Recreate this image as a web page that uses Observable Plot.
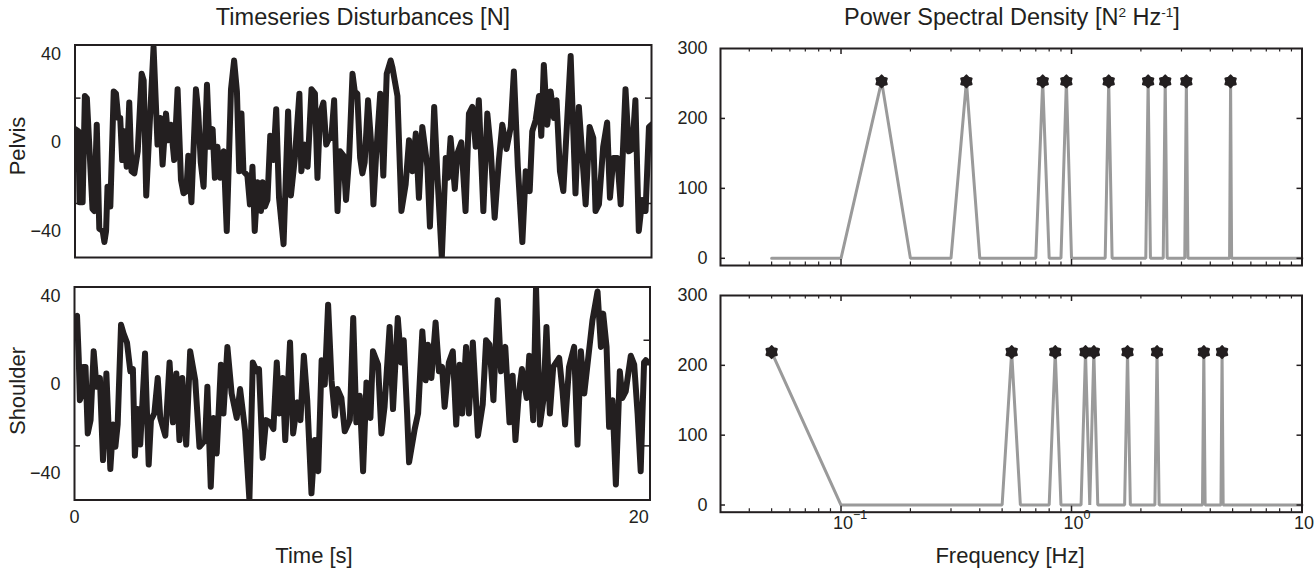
<!DOCTYPE html>
<html>
<head>
<meta charset="utf-8">
<script src="https://cdn.jsdelivr.net/npm/d3@7"></script>
<script src="https://cdn.jsdelivr.net/npm/@observablehq/plot@0.6"></script>
<style>
  html, body { margin: 0; padding: 0; background: #fff; }
  #fig { position: relative; width: 1314px; height: 573px; overflow: hidden;
         font-family: "Liberation Sans", Arial, Helvetica, sans-serif; color: #231f20; }
  #fig svg { position: absolute; left: 0; top: 0; }
  .lbl { position: absolute; white-space: nowrap; font-size: 22px; line-height: 1;
         transform: translate(-50%, -50%); }
  .ttl { font-size: 23.5px; }
  .rot { transform: translate(-50%, -50%) rotate(-90deg); }
  .lbl sup { font-size: 58%; vertical-align: 0.6em; line-height: 0; }
</style>
</head>
<body>
<div id="fig">
  <div class="lbl ttl" style="left:363px; top:18px;">Timeseries Disturbances [N]</div>
  <div class="lbl ttl" style="left:1012px; top:18px;">Power Spectral Density [N<sup>2</sup> Hz<sup>-1</sup>]</div>
  <div class="lbl rot" style="left:18px; top:146px;">Pelvis</div>
  <div class="lbl rot" style="left:18px; top:391px;">Shoulder</div>
  <div class="lbl" style="left:314px; top:556px;">Time [s]</div>
  <div class="lbl" style="left:1010px; top:556px;">Frequency [Hz]</div>
</div>
<script>
// ---------- data ----------
const pelvisTime = [0,0.12,0.16,0.27,0.35,0.42,0.62,0.68,0.77,0.86,0.98,1.04,1.10,1.15,1.25,1.37,1.45,1.53,1.60,1.67,1.74,1.83,1.92,2.00,2.10,2.22,2.36,2.43,2.52,2.63,2.78,2.92,3.02,3.10,3.22,3.30,3.39,3.51,3.63,3.75,3.84,3.94,4.01,4.12,4.28,4.36,4.45,4.55,4.67,4.76,4.87,4.95,5.04,5.14,5.26,5.37,5.52,5.63,5.73,5.81,5.89,5.96,6.10,6.19,6.28,6.36,6.46,6.58,6.64,6.72,6.81,6.91,7.02,7.12,7.22,7.38,7.54,7.64,7.78,7.94,8.01,8.13,8.23,8.37,8.49,8.58,8.67,8.79,8.89,8.99,9.07,9.17,9.29,9.38,9.50,9.59,9.70,9.82,9.90,9.99,10.09,10.17,10.25,10.37,10.47,10.56,10.65,10.80,10.91,11.03,11.17,11.23,11.41,11.55,11.70,11.82,11.94,12.06,12.17,12.29,12.47,12.56,12.71,12.82,12.98,13.12,13.20,13.29,13.44,13.53,13.67,13.82,13.94,14.06,14.18,14.29,14.45,14.59,14.71,14.85,15.00,15.12,15.27,15.42,15.53,15.67,15.83,15.95,16.09,16.18,16.30,16.42,16.50,16.59,16.71,16.83,16.95,17.04,17.16,17.28,17.42,17.54,17.71,17.83,17.95,18.07,18.21,18.34,18.42,18.54,18.69,18.83,18.93,19.05,19.19,19.31,19.48,19.60,19.72,19.83,19.95,20.07,20.19,20.31,20.40];
const pelvisForce = [6,5,-27,-27,21,20,-30,-31,8,-39,-40,-45,-40,-20,-29,23,22,11,11,-8,5,-11,18,-13,-14,-4,31,28,-24,5,43,-1,11,-10,13,1,8,-8,24,-17,-23,-22,-6,-27,24,14,-9,-20,26,-2,6,-16,-2,-16,-4,-40,24,37,23,-13,13,-13,-15,-28,-11,-40,-18,-31,-18,-29,-26,3,-8,15,-25,-46,14,-24,-7,22,-13,-1,-11,24,22,-16,13,18,-1,2,2,19,-31,-4,-6,-26,-7,31,23,22,-7,-14,-9,19,1,-28,-7,22,-15,31,37,34,21,-31,-19,1,-13,4,-25,7,-11,-38,16,-14,-52,-7,-16,2,-21,-5,0,-31,13,16,-2,19,-31,13,-3,-34,-8,8,-3,7,32,-11,-45,-13,-22,5,10,21,3,35,8,23,11,19,-13,-22,11,39,-23,16,-6,-28,7,2,-31,-28,-2,9,-25,-7,-7,-28,24,-4,-3,19,-40,-26,-31,7,8];

const shoulderTime = [0,0.09,0.15,0.19,0.27,0.31,0.39,0.47,0.57,0.68,0.78,0.90,1.01,1.13,1.27,1.37,1.45,1.53,1.65,1.74,1.86,1.98,2.07,2.14,2.24,2.33,2.40,2.50,2.63,2.71,2.83,2.95,3.04,3.22,3.37,3.49,3.61,3.72,3.82,3.96,4.10,4.28,4.43,4.63,4.71,4.83,4.93,5.04,5.19,5.28,5.42,5.57,5.75,5.87,6.05,6.20,6.32,6.46,6.54,6.67,6.79,6.93,7.05,7.17,7.26,7.38,7.47,7.64,7.75,7.90,8.01,8.13,8.25,8.40,8.52,8.64,8.76,8.87,8.99,9.11,9.23,9.32,9.46,9.58,9.76,9.88,9.99,10.11,10.23,10.35,10.49,10.58,10.76,10.88,10.99,11.17,11.29,11.46,11.58,11.67,11.79,11.86,12.06,12.18,12.33,12.45,12.53,12.65,12.80,12.92,13.03,13.12,13.27,13.41,13.53,13.65,13.74,13.88,13.98,14.12,14.30,14.47,14.59,14.71,14.85,15.00,15.12,15.27,15.42,15.53,15.63,15.75,15.86,16.03,16.12,16.26,16.36,16.50,16.62,16.73,16.85,16.97,17.18,17.30,17.39,17.53,17.71,17.83,17.95,18.07,18.36,18.54,18.66,18.74,18.86,18.95,19.07,19.19,19.33,19.42,19.54,19.72,19.84,19.96,20.07,20.19,20.25,20.33];
const shoulderForce = [30,31,12,-7,-4,8,8,-22,-16,15,-1,3,-34,5,-38,-18,-28,-18,27,23,19,6,7,-32,-11,-27,-10,14,-36,-16,-13,3,-15,-23,10,-17,5,-25,3,-27,15,2,-28,-25,-1,-46,-15,-31,9,-13,17,-4,-15,-2,-21,-52,10,6,7,-33,-16,-17,-20,10,-13,3,-25,19,-22,-8,-16,13,-7,-49,-25,-39,11,0,36,2,-14,-2,-6,-21,-16,30,-17,-5,-39,1,-15,15,9,-22,-10,26,-11,30,10,20,-13,-35,-20,-13,24,2,18,3,28,6,8,-10,10,15,-18,9,-13,17,-13,19,-23,-9,20,18,-7,38,6,17,-17,4,-25,-4,7,-6,13,-16,44,-18,-7,26,-13,8,12,-3,-18,8,17,-27,15,-4,29,42,17,32,17,-19,-7,-45,6,-6,-3,13,9,-13,-39,10,11,10];

const pelvisFreq = [0.05,0.1,0.15,0.2,0.3,0.35,0.4,0.7,0.75,0.8,0.9,0.95,1.0,1.4,1.45,1.5,2.1,2.15,2.2,2.5,2.55,2.6,3.1,3.15,3.2,4.85,4.9,4.95,10];
const pelvisPSD  = [0,0,253,0,0,253,0,0,253,0,0,253,0,0,253,0,0,253,0,0,253,0,0,253,0,0,253,0,0];
const shoulderFreq = [0.05,0.1,0.5,0.55,0.6,0.8,0.85,0.9,1.1,1.15,1.2,1.25,1.3,1.7,1.75,1.8,2.3,2.35,2.4,3.7,3.75,3.8,4.45,4.5,4.55,10];
const shoulderPSD  = [219,0,0,219,0,0,219,0,0,219,0,219,0,0,219,0,0,219,0,0,219,0,0,219,0,0];

// tick values and labels
const tsYTicks = [-40, 0, 40];
const tsInnerTicks = [20, -27.6];
const tsXTicks = [0, 20];
const psdYTicks = [0, 100, 200, 300];
const psdInnerY = [0, 100, 200];
const psdXTicks = [0.1, 1, 10];
const psdXExponents = ["\u22121", "0", "1"];
const psdMinorX = [0.04,0.05,0.06,0.07,0.08,0.09,0.2,0.3,0.4,0.5,0.6,0.7,0.8,0.9,2,3,4,5,6,7,8,9];

// ---------- drawing ----------
const ink = "#231f20";
const grey = "#9a9a9a";
const FONT = '"Liberation Sans", Arial, Helvetica, sans-serif';
const W = 1314, H = 573;
const fmt = d => (d < 0 ? "\u2212" + Math.abs(d) : String(d));

// six-pointed star marker (hexagram)
const hexagram = {
  draw(ctx, size) {
    const r = Math.sqrt(size / Math.PI) * 1.2, ri = r * 0.72;
    for (let k = 0; k < 12; ++k) {
      const a = Math.PI / 6 * k - Math.PI / 2, rr = k % 2 ? ri : r;
      const px = rr * Math.cos(a), py = rr * Math.sin(a);
      if (k) ctx.lineTo(px, py); else ctx.moveTo(px, py);
    }
    ctx.closePath();
  }
};

function baseStyle() {
  return { background: "transparent", fontFamily: FONT, fontSize: "18px", color: ink, overflow: "visible" };
}

function tsPlot(time, force, m, showX) {
  const fw = W - m.left - m.right;
  const rows = time.map((t, i) => ({ t, f: force[i] }));
  const marks = [
    Plot.line(rows, { x: "t", y: "f", stroke: ink, strokeWidth: 6, strokeLinejoin: "round", clip: true }),
    Plot.frame({ stroke: ink, strokeWidth: 2 }),
    Plot.axisY({ ticks: tsYTicks, tickSize: 0, tickPadding: 14, tickFormat: fmt, fill: ink, label: null }),
    Plot.tickY(tsInnerTicks, { y: d => d, stroke: ink, strokeWidth: 1.5, insetRight: fw - 6 }),
    Plot.tickY(tsInnerTicks, { y: d => d, stroke: ink, strokeWidth: 1.5, insetLeft: fw - 6 })
  ];
  if (showX) marks.push(Plot.axisX({ ticks: tsXTicks, tickSize: 0, tickPadding: 10, tickFormat: fmt, fill: ink, label: null }));
  return Plot.plot({
    width: W, height: H,
    marginLeft: m.left, marginRight: m.right, marginTop: m.top, marginBottom: m.bottom,
    x: { type: "linear", domain: [0, 20.4], axis: showX ? undefined : null, label: null },
    y: { domain: [-52, 44], label: null },
    style: baseStyle(),
    marks
  });
}

function psdPlot(freq, psd, m, showX) {
  const fw = W - m.left - m.right, fh = H - m.top - m.bottom;
  const rows = freq.map((f, i) => ({ f, p: psd[i] }));
  const marks = [
    Plot.line(rows, { x: "f", y: "p", stroke: grey, strokeWidth: 3, strokeLinejoin: "miter" }),
    Plot.dot(rows.filter(d => d.p > 0), { x: "f", y: "p", symbol: hexagram, r: 5, fill: ink, stroke: ink, strokeWidth: 2, strokeLinejoin: "round" }),
    Plot.frame({ stroke: ink, strokeWidth: 2 }),
    Plot.axisY({ ticks: psdYTicks, tickSize: 0, tickPadding: 13, fill: ink, label: null }),
    Plot.tickY(psdInnerY, { y: d => d, stroke: ink, strokeWidth: 1.5, insetRight: fw - 5 }),
    Plot.tickY(psdInnerY, { y: d => d, stroke: ink, strokeWidth: 1.5, insetLeft: fw - 5 }),
    Plot.tickX(psdXTicks, { x: d => d, stroke: ink, strokeWidth: 1.5, insetTop: fh - 6 }),
    Plot.tickX(psdXTicks, { x: d => d, stroke: ink, strokeWidth: 1.5, insetBottom: fh - 6 }),
    Plot.tickX(psdMinorX, { x: d => d, stroke: ink, strokeWidth: 1.2, insetTop: fh - 3.5 }),
    Plot.tickX(psdMinorX, { x: d => d, stroke: ink, strokeWidth: 1.2, insetBottom: fh - 3.5 })
  ];
  if (showX) {
    marks.push(Plot.axisX({ ticks: psdXTicks, tickSize: 0, tickPadding: 4, tickFormat: () => "10",
                            textAnchor: "end", dx: 12, fill: ink, label: null }));
    marks.push(Plot.text(psdXTicks, { x: d => d, text: (d, i) => psdXExponents[i], frameAnchor: "bottom",
                            textAnchor: "start", dx: 12, dy: 7, fontSize: 12.5, fill: ink }));
  }
  return Plot.plot({
    width: W, height: H,
    marginLeft: m.left, marginRight: m.right, marginTop: m.top, marginBottom: m.bottom,
    x: { type: "log", domain: [0.03, 10], axis: showX ? undefined : null, label: null },
    y: { domain: [-10.3, 300], label: null },
    style: baseStyle(),
    marks
  });
}

const fig = document.getElementById("fig");
fig.appendChild(tsPlot(pelvisTime, pelvisForce, { left: 74.5, right: W - 651, top: 44.5, bottom: H - 257 }, false));
fig.appendChild(tsPlot(shoulderTime, shoulderForce, { left: 74, right: W - 649.5, top: 286.5, bottom: H - 499.5 }, true));
fig.appendChild(psdPlot(pelvisFreq, pelvisPSD, { left: 720, right: W - 1301.5, top: 48, bottom: H - 265 }, false));
fig.appendChild(psdPlot(shoulderFreq, shoulderPSD, { left: 720, right: W - 1301.5, top: 295, bottom: H - 511.7 }, true));
</script>
</body>
</html>
